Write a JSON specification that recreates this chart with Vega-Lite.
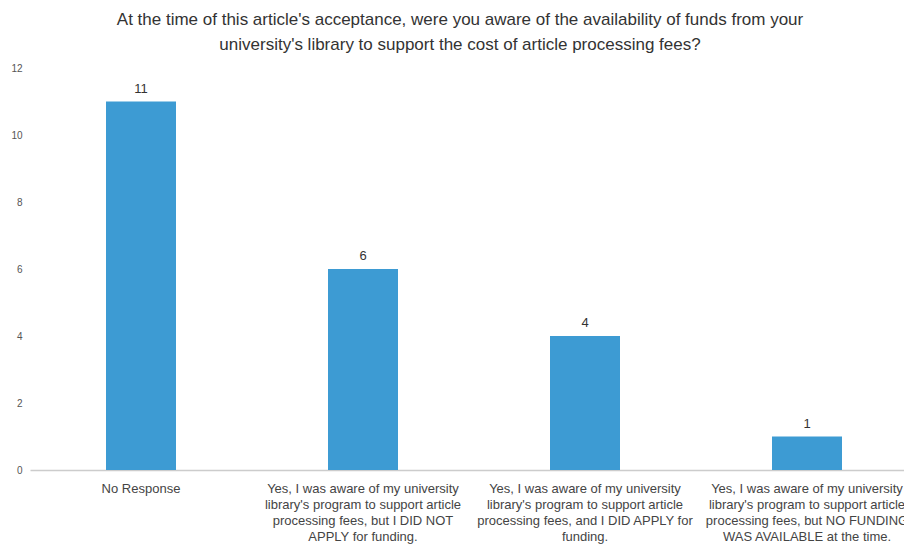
{
  "$schema": "https://vega.github.io/schema/vega-lite/v6.json",
  "width": 888,
  "height": 402,
  "autosize": {"type": "none"},
  "padding": {"left": 30, "top": 68, "right": 0, "bottom": 77},
  "background": "white",
  "title": {
    "text": ["At the time of this article's acceptance, were you aware of the availability of funds from your", "university's library to support the cost of article processing fees?"],
    "font": "Liberation Sans",
    "fontSize": 17,
    "fontWeight": "normal",
    "color": "#333333",
    "lineHeight": 25,
    "anchor": "middle",
    "dx": -14,
    "offset": 9
  },
  "config": {"view": {"stroke": null}, "font": "Liberation Sans"},
  "data": {
    "values": [
      {"response": "No Response", "count": 11},
      {"response": "Yes, I was aware of my university\nlibrary's program to support article\nprocessing fees, but I DID NOT\nAPPLY for funding.", "count": 6},
      {"response": "Yes, I was aware of my university\nlibrary's program to support article\nprocessing fees, and I DID APPLY for\nfunding.", "count": 4},
      {"response": "Yes, I was aware of my university\nlibrary's program to support article\nprocessing fees, but NO FUNDING\nWAS AVAILABLE at the time.", "count": 1}
    ]
  },
  "encoding": {
    "x": {
      "field": "response",
      "type": "nominal",
      "sort": null,
      "scale": {"paddingInner": 0, "paddingOuter": 0},
      "axis": {
        "title": null,
        "labelAngle": 0,
        "labelExpr": "split(datum.label, '\\n')",
        "labelFont": "Liberation Sans",
        "labelFontSize": 13,
        "labelColor": "#444444",
        "labelLineHeight": 16,
        "labelPadding": 12,
        "labelLimit": 0,
        "ticks": false,
        "domainColor": "#cccccc",
        "domainWidth": 1.5,
        "labelBaseline": "top"
      }
    },
    "y": {
      "field": "count",
      "type": "quantitative",
      "scale": {"domain": [0, 12], "nice": false},
      "axis": {
        "title": null,
        "values": [0, 2, 4, 6, 8, 10, 12],
        "grid": false,
        "domain": false,
        "ticks": false,
        "labelFont": "Liberation Sans",
        "labelFontSize": 10,
        "labelColor": "#555555",
        "labelPadding": 8
      }
    }
  },
  "layer": [
    {"mark": {"type": "bar", "width": 70, "color": "#3d9bd3"}},
    {
      "mark": {"type": "text", "baseline": "bottom", "dy": -6, "fontSize": 13, "color": "#333333", "font": "Liberation Sans"},
      "encoding": {"text": {"field": "count", "type": "quantitative"}}
    }
  ]
}
